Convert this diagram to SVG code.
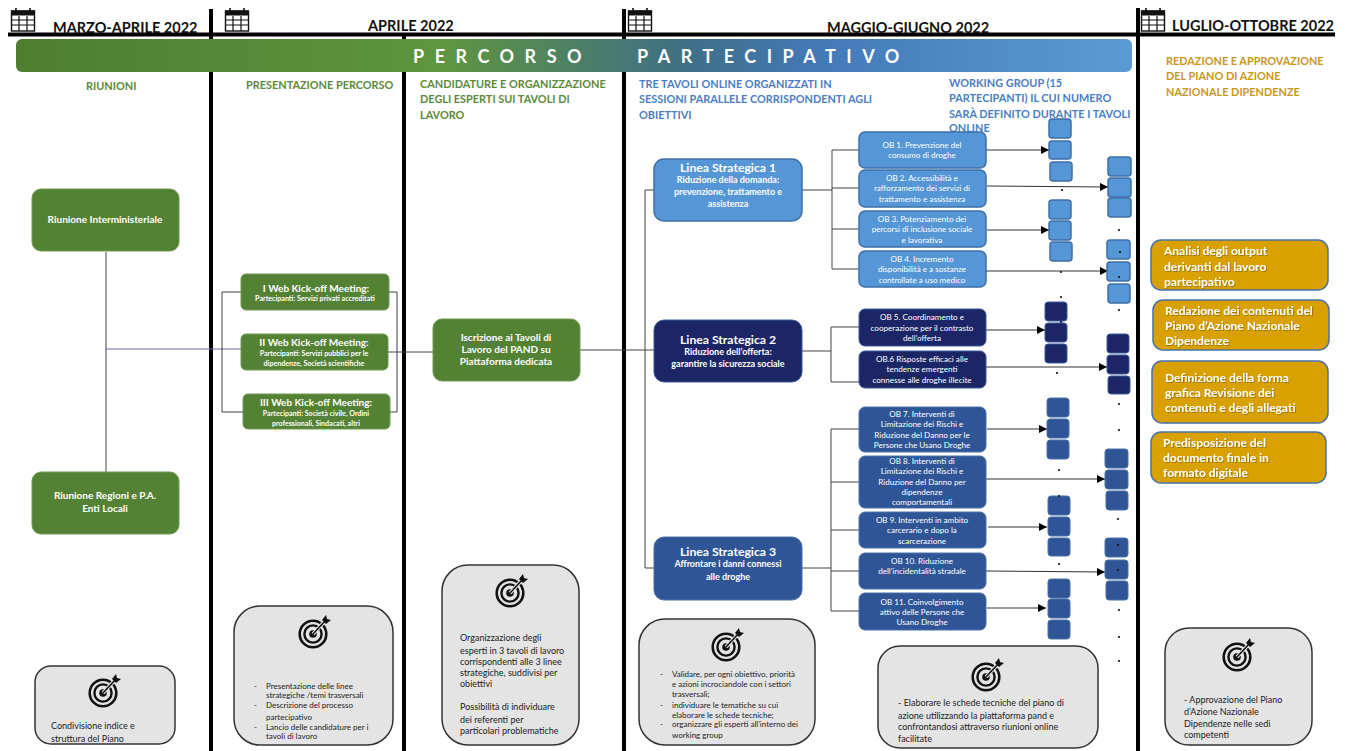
<svg xmlns="http://www.w3.org/2000/svg" xmlns:xlink="http://www.w3.org/1999/xlink" width="1346" height="751" viewBox="0 0 1346 751">
<style>
text{font-family:Lato,"Liberation Sans",sans-serif}
.hd{font-size:14.5px;font-weight:700;fill:#111}
.bar{stroke:#000;stroke-width:4;fill:none}
.g{font-size:10.9px;font-weight:700;fill:#5b8a3a}
.b{font-size:10.9px;font-weight:700;fill:#4a7ec4}
.y{font-size:10.9px;font-weight:700;fill:#c9971c}
.w{fill:#fff;text-anchor:middle;font-weight:700}
.t10{font-size:10px}.t7{font-size:7.1px}.t12{font-size:12.2px}.t8{font-size:8.1px;font-weight:400}.t9{font-size:9px}
.lg{fill:#548235;stroke:#6f9a50;stroke-width:1}
.l1{fill:#5596d6;stroke:#3e6fa8;stroke-width:1.5}
.l2{fill:#1c2666;stroke:#3a5a9a;stroke-width:1}
.l3{fill:#2f5597;stroke:#4a70a8;stroke-width:1}
.ye{fill:#d9a100;stroke:#4a70a8;stroke-width:1.5}
.gr{fill:#e4e4e4;stroke:#333;stroke-width:1.5}
.yt{font-size:12px;font-weight:700;fill:#fff;filter:url(#sh)}
.k{font-size:8px;fill:#222}
.m{font-size:9px;fill:#222}
.c{stroke:#444;stroke-width:1;fill:none}
.a{stroke:#333;stroke-width:1;fill:none;marker-end:url(#ah)}
.d{fill:#111}
</style>
<defs>
<filter id="sh" x="-5%" y="-20%" width="110%" height="140%"><feDropShadow dx="0.8" dy="0.8" stdDeviation="0.6" flood-color="#000" flood-opacity=".35"/></filter>
<linearGradient id="bn" x1="0" x2="1" y1="0" y2="0">
<stop offset="0" stop-color="#4e7d30"/><stop offset=".38" stop-color="#5f953e"/><stop offset=".6" stop-color="#3e6f86"/><stop offset=".72" stop-color="#4479b8"/><stop offset="1" stop-color="#5b9bd5"/>
</linearGradient>
<marker id="ah" markerUnits="userSpaceOnUse" markerWidth="9" markerHeight="8" refX="8" refY="4" orient="auto"><path d="M0 0L8 4L0 8z" fill="#000"/></marker>
<symbol id="cal" viewBox="0 0 24 24" overflow="visible">
<rect x="0.5" y="3" width="23" height="20" fill="#fff" stroke="#111" stroke-width="1.4"/>
<rect x="0" y="2.5" width="24" height="5" fill="#111"/>
<path d="M5 0v4M19 0v4" stroke="#111" stroke-width="1.6"/>
<path d="M1 12h22M1 17h22M8 8v15M16 8v15" stroke="#111" stroke-width="1.2"/>
</symbol>
<symbol id="tgt" viewBox="0 0 32 34" overflow="visible">
<circle cx="14" cy="19" r="13.3" fill="none" stroke="#111" stroke-width="2.6"/>
<circle cx="14" cy="19" r="8.6" fill="none" stroke="#111" stroke-width="2.4"/>
<circle cx="14" cy="19" r="3.8" fill="#111"/>
<path d="M14 19L26 6" stroke="#e4e4e4" stroke-width="3.6"/>
<path d="M14 19L27 5" stroke="#111" stroke-width="1.6"/>
<path d="M23 5l4-5 1 4 4 1-5 4z" fill="#111"/>
</symbol>
</defs>

<g id="header">
<path class="bar" d="M8 34.5H1335"/>
<path class="bar" d="M211 9V751M404 36V751M624 9V751M1138 8V751"/>
<use xlink:href="#cal" href="#cal" x="11" y="8" width="24" height="24"/>
<use xlink:href="#cal" href="#cal" x="225" y="8" width="24" height="24"/>
<use xlink:href="#cal" href="#cal" x="628" y="8" width="24" height="24"/>
<use xlink:href="#cal" href="#cal" x="1141" y="8" width="24" height="24"/>
<text class="hd" x="53" y="33">MARZO-APRILE 2022</text>
<text class="hd" x="368" y="31">APRILE 2022</text>
<text class="hd" x="827" y="33">MAGGIO-GIUGNO 2022</text>
<text class="hd" x="1172" y="31">LUGLIO-OTTOBRE 2022</text>
</g>

<g id="banner">
<rect x="16" y="39" width="1116" height="33" rx="6" fill="url(#bn)"/>
<text x="413" y="63" fill="#fff" font-size="18" font-weight="700" letter-spacing="10.5">PERCORSO</text>
<text x="637" y="63" fill="#fff" font-size="18" font-weight="700" letter-spacing="10.5">PARTECIPATIVO</text>
</g>

<g id="column-titles">
<text class="g" x="86" y="90">RIUNIONI</text>
<text class="g" x="246" y="89">PRESENTAZIONE PERCORSO</text>
<text class="g"><tspan x="420" y="88">CANDIDATURE E ORGANIZZAZIONE</tspan><tspan x="420" y="103">DEGLI ESPERTI SUI TAVOLI DI</tspan><tspan x="420" y="119">LAVORO</tspan></text>
<text class="b"><tspan x="639" y="88">TRE TAVOLI ONLINE ORGANIZZATI IN</tspan><tspan x="639" y="103">SESSIONI PARALLELE CORRISPONDENTI AGLI</tspan><tspan x="639" y="119">OBIETTIVI</tspan></text>
<text class="b"><tspan x="949" y="87">WORKING GROUP (15</tspan><tspan x="949" y="102">PARTECIPANTI) IL CUI NUMERO</tspan><tspan x="949" y="118">SARÀ DEFINITO DURANTE I TAVOLI</tspan><tspan x="949" y="132">ONLINE</tspan></text>
<text class="y"><tspan x="1166" y="65">REDAZIONE E APPROVAZIONE</tspan><tspan x="1166" y="80">DEL PIANO DI AZIONE</tspan><tspan x="1166" y="96">NAZIONALE DIPENDENZE</tspan></text>
</g>

<g id="connectors">
<path class="c" d="M106 252V472"/>
<path class="c" style="stroke:#6a6a9a" d="M106 349H241"/>
<path class="c" d="M241 292H222V412H243M389 292H397V412H390M388 352H433"/>
<path class="c" d="M580 350H654M645 190V568M645 190H654M645 568H654"/>
<path class="c" d="M802 190H832M832 150V269M832 150H859M832 188H859M832 229H859M832 269H859"/>
<path class="c" d="M802 351H831M831 327V382M831 327H859M831 382H859"/>
<path class="c" d="M802 568H831M831 429V611M831 429H859M831 482H859M831 530H859M831 571H859M831 611H859"/>
<path class="a" d="M986 150H1049"/>
<path class="a" d="M987 186L1108 187"/>
<path class="a" d="M987 230H1049"/>
<path class="a" d="M986 271H1108"/>
<path class="a" d="M986 330H1045"/>
<path class="a" d="M986 367H1107"/>
<path class="a" d="M987 429H1047"/>
<path class="a" d="M986 479H1105"/>
<path class="a" d="M988 527H1047"/>
<path class="a" d="M986 571L1105 572"/>
<path class="a" d="M987 608H1046"/>
</g>

<g id="riunione-interministeriale"><rect class="lg" x="32" y="189" width="147" height="62" rx="9"/><text class="w t10" x="105" y="223">Riunione Interministeriale</text></g>
<g id="riunione-regioni"><rect class="lg" x="32" y="472" width="147" height="62" rx="9"/><text class="w t10"><tspan x="105" y="499">Riunione Regioni e P.A.</tspan><tspan x="105" y="512">Enti Locali</tspan></text></g>
<g id="kickoff-1"><rect class="lg" x="241" y="274" width="148" height="36" rx="5"/><text class="w"><tspan class="t10" x="316" y="292">I Web Kick-off Meeting:</tspan><tspan class="t7" x="315" y="301">Partecipanti: Servizi privati accreditati</tspan></text></g>
<g id="kickoff-2"><rect class="lg" x="241" y="334" width="147" height="36" rx="5"/><text class="w"><tspan class="t10" x="314" y="346">II Web Kick-off Meeting:</tspan><tspan class="t7" x="314" y="356">Partecipanti: Servizi pubblici per le</tspan><tspan class="t7" x="314" y="366">dipendenze, Società scientifiche</tspan></text></g>
<g id="kickoff-3"><rect class="lg" x="243" y="394" width="147" height="35" rx="5"/><text class="w"><tspan class="t10" x="316" y="406">III Web Kick-off Meeting:</tspan><tspan class="t7" x="316" y="416">Partecipanti: Società civile, Ordini</tspan><tspan class="t7" x="316" y="426">professionali, Sindacati, altri</tspan></text></g>
<g id="iscrizione"><rect class="lg" x="433" y="319" width="147" height="62" rx="9"/><text class="w t10"><tspan x="506" y="341">Iscrizione ai Tavoli di</tspan><tspan x="506" y="353">Lavoro del PAND su</tspan><tspan x="506" y="365">Piattaforma dedicata</tspan></text></g>

<g id="linea-1"><rect class="l1" x="654" y="159" width="148" height="62" rx="10"/><text class="w"><tspan class="t12" x="728" y="172">Linea Strategica 1</tspan><tspan class="t9" x="728" y="183">Riduzione della domanda:</tspan><tspan class="t9" x="728" y="195">prevenzione, trattamento e</tspan><tspan class="t9" x="728" y="207">assistenza</tspan></text></g>
<g id="linea-2"><rect class="l2" x="654" y="320" width="148" height="62" rx="10"/><text class="w"><tspan class="t12" x="728" y="344">Linea Strategica 2</tspan><tspan class="t9" x="728" y="355">Riduzione dell’offerta:</tspan><tspan class="t9" x="728" y="367">garantire la sicurezza sociale</tspan></text></g>
<g id="linea-3"><rect class="l3" x="654" y="537" width="148" height="63" rx="10"/><text class="w"><tspan class="t12" x="728" y="556">Linea Strategica 3</tspan><tspan class="t9" x="728" y="567">Affrontare i danni connessi</tspan><tspan class="t9" x="728" y="580">alle droghe</tspan></text></g>

<g id="ob-1"><rect class="l1" x="859" y="132" width="127" height="36" rx="6"/><text class="w t8"><tspan x="922" y="148">OB 1. Prevenzione del</tspan><tspan x="922" y="158">consumo di droghe</tspan></text></g>
<g id="ob-2"><rect class="l1" x="859" y="170" width="127" height="37" rx="6"/><text class="w t8"><tspan x="922" y="181">OB 2. Accessibilità e</tspan><tspan x="922" y="191">rafforzamento dei servizi di</tspan><tspan x="922" y="202">trattamento e assistenza</tspan></text></g>
<g id="ob-3"><rect class="l1" x="859" y="211" width="127" height="36" rx="6"/><text class="w t8"><tspan x="922" y="222">OB 3.  Potenziamento dei</tspan><tspan x="922" y="232">percorsi di inclusione sociale</tspan><tspan x="922" y="243">e lavorativa</tspan></text></g>
<g id="ob-4"><rect class="l1" x="859" y="251" width="127" height="36" rx="6"/><text class="w t8"><tspan x="922" y="262">OB 4.  Incremento</tspan><tspan x="922" y="272">disponibilità e a sostanze</tspan><tspan x="922" y="283">controllate a uso medico</tspan></text></g>
<g id="ob-5"><rect class="l2" x="859" y="309" width="127" height="37" rx="6"/><text class="w t8"><tspan x="922" y="320">OB 5.  Coordinamento e</tspan><tspan x="922" y="331">cooperazione per il contrasto</tspan><tspan x="922" y="341">dell’offerta</tspan></text></g>
<g id="ob-6"><rect class="l2" x="859" y="351" width="127" height="37" rx="6"/><text class="w t8"><tspan x="922" y="362">OB.6  Risposte efficaci alle</tspan><tspan x="922" y="372">tendenze emergenti</tspan><tspan x="922" y="383">connesse alle droghe illecite</tspan></text></g>
<g id="ob-7"><rect class="l3" x="859" y="407" width="127" height="45" rx="6"/><text class="w t8"><tspan x="922" y="417">OB 7. Interventi di</tspan><tspan x="922" y="427">Limitazione dei Rischi e</tspan><tspan x="922" y="438">Riduzione del Danno per le</tspan><tspan x="922" y="448">Persone che Usano Droghe</tspan></text></g>
<g id="ob-8"><rect class="l3" x="859" y="456" width="127" height="52" rx="6"/><text class="w t8"><tspan x="922" y="464">OB 8. Interventi di</tspan><tspan x="922" y="474">Limitazione dei Rischi e</tspan><tspan x="922" y="485">Riduzione del Danno per</tspan><tspan x="922" y="495">dipendenze</tspan><tspan x="922" y="505">comportamentali</tspan></text></g>
<g id="ob-9"><rect class="l3" x="859" y="512" width="127" height="36" rx="6"/><text class="w t8"><tspan x="922" y="523">OB 9. Interventi in ambito</tspan><tspan x="922" y="533">carcerario e dopo la</tspan><tspan x="922" y="544">scarcerazione</tspan></text></g>
<g id="ob-10"><rect class="l3" x="859" y="553" width="127" height="36" rx="6"/><text class="w t8"><tspan x="922" y="564">OB 10.  Riduzione</tspan><tspan x="922" y="574">dell’incidentalità stradale</tspan></text></g>
<g id="ob-11"><rect class="l3" x="859" y="593" width="127" height="37" rx="6"/><text class="w t8"><tspan x="922" y="605">OB 11.  Coinvolgimento</tspan><tspan x="922" y="615">attivo delle Persone che</tspan><tspan x="922" y="625">Usano Droghe</tspan></text></g>

<g id="working-group-squares">
<g class="l1"><rect x="1049" y="119" width="22" height="19" rx="3"/><rect x="1049" y="141" width="22" height="18" rx="3"/><rect x="1050" y="162" width="22" height="19" rx="3"/><rect x="1049" y="200" width="22" height="19" rx="3"/><rect x="1049" y="221" width="22" height="19" rx="3"/><rect x="1050" y="242" width="22" height="19" rx="3"/><rect x="1108" y="157" width="23" height="19" rx="3"/><rect x="1108" y="178" width="23" height="19" rx="3"/><rect x="1108" y="198" width="23" height="19" rx="3"/><rect x="1107" y="240" width="23" height="19" rx="3"/><rect x="1107" y="262" width="23" height="19" rx="3"/><rect x="1108" y="284" width="22" height="19" rx="3"/></g>
<g class="l2"><rect x="1045" y="302" width="22" height="19" rx="3"/><rect x="1045" y="323" width="22" height="19" rx="3"/><rect x="1045" y="344" width="22" height="19" rx="3"/><rect x="1107" y="334" width="22" height="19" rx="3"/><rect x="1107" y="355" width="22" height="19" rx="3"/><rect x="1108" y="376" width="22" height="18" rx="3"/></g>
<g class="l3"><rect x="1047" y="398" width="22" height="19" rx="3"/><rect x="1047" y="419" width="22" height="19" rx="3"/><rect x="1047" y="440" width="22" height="19" rx="3"/><rect x="1105" y="449" width="23" height="19" rx="3"/><rect x="1105" y="470" width="23" height="19" rx="3"/><rect x="1106" y="491" width="22" height="19" rx="3"/><rect x="1048" y="496" width="22" height="19" rx="3"/><rect x="1048" y="517" width="22" height="19" rx="3"/><rect x="1048" y="538" width="22" height="18" rx="3"/><rect x="1105" y="538" width="23" height="19" rx="3"/><rect x="1105" y="560" width="23" height="19" rx="3"/><rect x="1106" y="581" width="22" height="19" rx="3"/><rect x="1048" y="579" width="22" height="19" rx="3"/><rect x="1048" y="599" width="22" height="19" rx="3"/><rect x="1048" y="620" width="22" height="19" rx="3"/></g>
</g>
<g id="dots" class="d">
<circle cx="1062" cy="190" r="1.1"/><circle cx="1119" cy="230" r="1.1"/><circle cx="1120" cy="252" r="1.1"/><circle cx="1119" cy="277" r="1.1"/><circle cx="1061" cy="272" r="1.1"/><circle cx="1061" cy="297" r="1.1"/><circle cx="1119" cy="310" r="1.1"/><circle cx="1061" cy="322" r="1"/><circle cx="1057" cy="373" r="1.1"/><circle cx="1119" cy="404" r="1.1"/><circle cx="1119" cy="430" r="1.1"/><circle cx="1059" cy="470" r="1.1"/><circle cx="1059" cy="496" r="1.1"/><circle cx="1118" cy="519" r="1.1"/><circle cx="1118" cy="545" r="1.1"/><circle cx="1118" cy="570" r="1.1"/><circle cx="1059" cy="564" r="1.1"/><circle cx="1119" cy="610" r="1.1"/><circle cx="1119" cy="637" r="1.1"/><circle cx="1119" cy="661" r="1.1"/>
</g>

<g id="fase-analisi"><rect class="ye" x="1151" y="240" width="177" height="50" rx="10"/><text class="yt"><tspan x="1164" y="255">Analisi degli output</tspan><tspan x="1164" y="271">derivanti dal lavoro</tspan><tspan x="1164" y="286">partecipativo</tspan></text></g>
<g id="fase-redazione"><rect class="ye" x="1153" y="300" width="176" height="50" rx="10"/><text class="yt"><tspan x="1165" y="315">Redazione dei contenuti del</tspan><tspan x="1165" y="330">Piano d’Azione Nazionale</tspan><tspan x="1165" y="345">Dipendenze</tspan></text></g>
<g id="fase-definizione"><rect class="ye" x="1152" y="361" width="176" height="62" rx="10"/><text class="yt"><tspan x="1165" y="382">Definizione della forma</tspan><tspan x="1165" y="397">grafica Revisione dei</tspan><tspan x="1165" y="412">contenuti e degli allegati</tspan></text></g>
<g id="fase-predisposizione"><rect class="ye" x="1151" y="432" width="175" height="51" rx="10"/><text class="yt"><tspan x="1163" y="447">Predisposizione del</tspan><tspan x="1163" y="462">documento finale in</tspan><tspan x="1163" y="477">formato digitale</tspan></text></g>

<g id="obiettivo-1"><rect class="gr" x="35" y="666" width="140" height="78" rx="16"/><use href="#tgt" xlink:href="#tgt" x="89" y="674" width="32" height="34"/><text class="m"><tspan x="51" y="729">Condivisione indice e</tspan><tspan x="51" y="742">struttura del Piano</tspan></text></g>
<g id="obiettivo-2"><rect class="gr" x="234" y="606" width="159" height="139" rx="26"/><use href="#tgt" xlink:href="#tgt" x="299" y="615" width="32" height="34"/><text class="k"><tspan x="254" y="689">-</tspan><tspan x="266" y="689">Presentazione delle linee</tspan><tspan x="266" y="698">strategiche /temi trasversali</tspan><tspan x="254" y="708">-</tspan><tspan x="266" y="708">Descrizione del processo</tspan><tspan x="266" y="720">partecipativo</tspan><tspan x="254" y="730">-</tspan><tspan x="266" y="730">Lancio delle candidature per i</tspan><tspan x="266" y="739">tavoli di lavoro</tspan></text></g>
<g id="obiettivo-3"><rect class="gr" x="442" y="565" width="137" height="180" rx="26"/><use href="#tgt" xlink:href="#tgt" x="496" y="574" width="32" height="34"/><text class="m"><tspan x="460" y="641">Organizzazione degli</tspan><tspan x="460" y="654">esperti in 3 tavoli di lavoro</tspan><tspan x="460" y="665">corrispondenti alle 3 linee</tspan><tspan x="460" y="676">strategiche, suddivisi per</tspan><tspan x="460" y="687">obiettivi</tspan><tspan x="460" y="710">Possibilità di individuare</tspan><tspan x="460" y="723">dei referenti per</tspan><tspan x="460" y="734">particolari problematiche</tspan></text></g>
<g id="obiettivo-4"><rect class="gr" x="639" y="619" width="176" height="126" rx="26"/><use href="#tgt" xlink:href="#tgt" x="712" y="628" width="32" height="34"/><text class="k"><tspan x="660" y="677">-</tspan><tspan x="672" y="677">Validare, per ogni obiettivo, priorità</tspan><tspan x="672" y="687">e azioni incrociandole con i settori</tspan><tspan x="672" y="697">trasversali;</tspan><tspan x="660" y="708">-</tspan><tspan x="672" y="708">individuare le tematiche su cui</tspan><tspan x="672" y="718">elaborare le schede tecniche;</tspan><tspan x="660" y="727">-</tspan><tspan x="672" y="727">organizzare gli esperti all’interno dei</tspan><tspan x="672" y="738">working group</tspan></text></g>
<g id="obiettivo-5"><rect class="gr" x="878" y="646" width="220" height="102" rx="22"/><use href="#tgt" xlink:href="#tgt" x="972" y="658" width="32" height="34"/><text class="m"><tspan x="898" y="706">- Elaborare le schede tecniche del piano di</tspan><tspan x="898" y="719">azione  utilizzando la piattaforma pand e</tspan><tspan x="898" y="730">confrontandosi attraverso riunioni online</tspan><tspan x="898" y="742">facilitate</tspan></text></g>
<g id="obiettivo-6"><rect class="gr" x="1165" y="628" width="147" height="117" rx="24"/><use href="#tgt" xlink:href="#tgt" x="1223" y="638" width="32" height="34"/><text class="m"><tspan x="1184" y="703">- Approvazione del Piano</tspan><tspan x="1184" y="715">d’Azione Nazionale</tspan><tspan x="1184" y="727">Dipendenze nelle sedi</tspan><tspan x="1184" y="738">competenti</tspan></text></g>
</svg>
